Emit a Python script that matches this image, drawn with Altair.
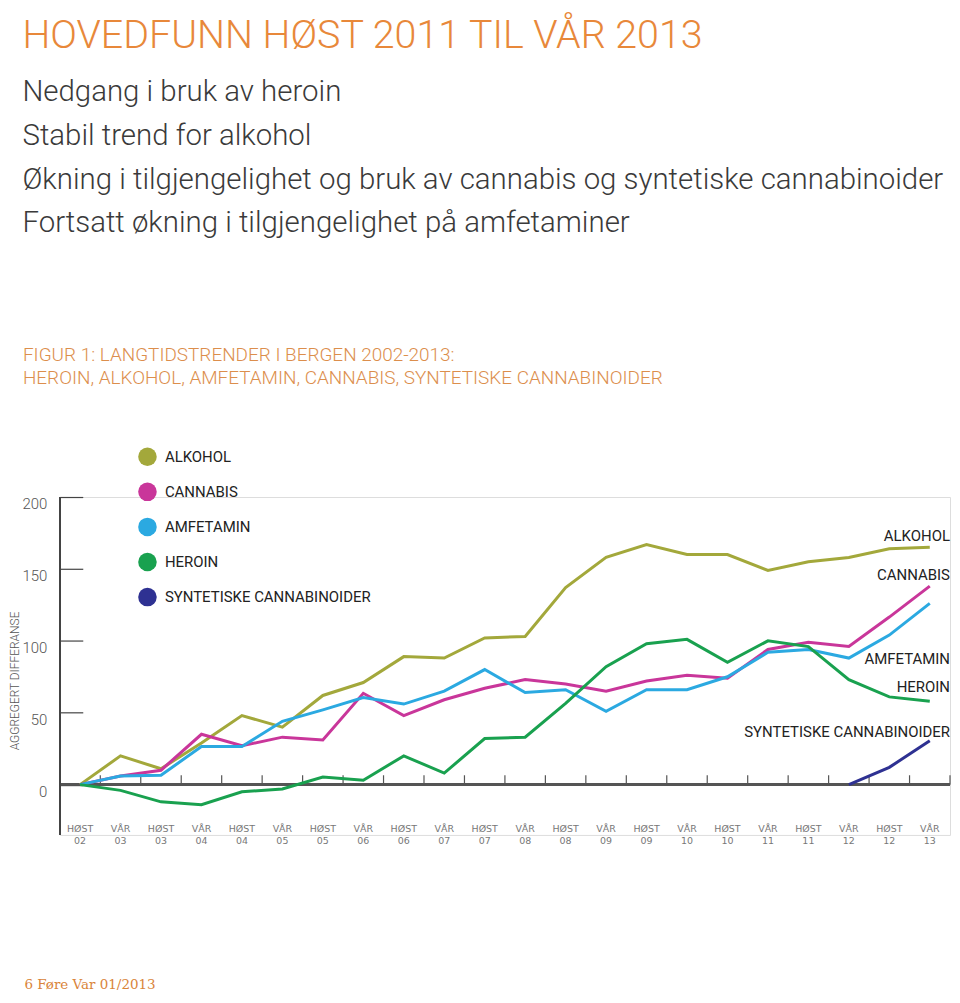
import altair as alt
import pandas as pd

periods = ["HØST 02", "VÅR 03", "HØST 03", "VÅR 04", "HØST 04", "VÅR 05", "HØST 05",
           "VÅR 06", "HØST 06", "VÅR 07", "HØST 07", "VÅR 08", "HØST 08", "VÅR 09",
           "HØST 09", "VÅR 10", "HØST 10", "VÅR 11", "HØST 11", "VÅR 12", "HØST 12", "VÅR 13"]

alkohol = [0, 20, 11, 29, 48, 40, 62, 71, 89, 88, 102, 103, 137, 158, 167, 160, 160, 149, 155, 158, 164, 165]
cannabis = [0, 6, 10, 35, 27, 33, 31, 63.5, 48, 59, 67, 73, 70, 65, 72, 76, 74, 94, 99, 96, 116.5, 138]
amfetamin = [0, 6, 6.5, 26.5, 26.5, 44, 52, 60.5, 56, 65, 80, 64, 66, 51, 66, 66, 75, 92, 94, 88, 104, 126]
heroin = [0, -4, -12, -14, -5, -3, 5.3, 3, 20, 8, 32, 33, 56.5, 82, 98, 101, 85, 100, 96, 73, 61, 58]
syntetiske = [None] * 19 + [0, 12, 30.5]

series_names = ["ALKOHOL", "CANNABIS", "AMFETAMIN", "HEROIN", "SYNTETISKE CANNABINOIDER"]
series_colors = ["#A3A83B", "#C9369A", "#2BA9E1", "#19A14F", "#2E3192"]
end_label_values = [173, 146, 87, 68, 36.7]

y_ticks = [0, 50, 100, 150, 200]

title_text = "HOVEDFUNN HØST 2011 TIL VÅR 2013"
subtitle_lines = [
    "Nedgang i bruk av heroin",
    "Stabil trend for alkohol",
    "Økning i tilgjengelighet og bruk av cannabis og syntetiske cannabinoider",
    "Fortsatt økning i tilgjengelighet på amfetaminer",
]
caption_lines = [
    "FIGUR 1: LANGTIDSTRENDER I BERGEN 2002-2013:",
    "HEROIN, ALKOHOL, AMFETAMIN, CANNABIS, SYNTETISKE CANNABINOIDER",
]
footer_text = "6   Føre Var 01/2013"

rows = []
for name, vals in zip(series_names, [alkohol, cannabis, amfetamin, heroin, syntetiske]):
    for p, v in zip(periods, vals):
        if v is not None:
            rows.append({"serie": name, "period": p, "value": v})
df = pd.DataFrame(rows)
labels_df = pd.DataFrame({"serie": series_names, "value": end_label_values,
                          "period": [periods[-1]] * len(series_names)})
periods_df = pd.DataFrame({"period": periods})

W, H = 893, 339
FONT = "Roboto"

x_scale = alt.Scale(type="band", domain=periods, paddingInner=0, paddingOuter=0)
y_scale = alt.Scale(domain=[-35, 200], nice=False, zero=False)
color_scale = alt.Scale(domain=series_names, range=series_colors)

x_axis = alt.Axis(
    orient="bottom", offset=-11, domain=False, ticks=False, grid=False,
    labelPadding=0, labelFontSize=9.5, labelColor="#777", labelFont="DejaVu Sans",
    labelLineHeight=12, labelBaseline="top", labelAngle=0,
    labelExpr="split(datum.label, ' ')",
    title=footer_text, titleFont="DejaVu Serif", titleFontSize=13.5, titleFontWeight="normal",
    titleColor="#D9843A", titleX=-36, titleY=165, titleAlign="left",
    titleBaseline="alphabetic", titleAnchor="start",
)
y_axis = alt.Axis(
    values=y_ticks, offset=-23, tickSize=23, domain=False, grid=False,
    labelPadding=13, labelOffset=7, labelFontSize=15, labelColor="#555",
    labelFont=FONT, labelFontWeight=300, tickColor="#444", tickWidth=1.2,
    title="AGGREGERT DIFFERANSE", titleFont=FONT, titleFontSize=12, titleFontWeight=300,
    titleColor="#555", titleX=-61, titleY=184, titleBaseline="bottom",
)

legend = alt.Legend(
    orient="none", legendX=78.4, legendY=-49.9, title=None, padding=0,
    symbolType="circle", symbolSize=346, symbolStrokeWidth=0, symbolOpacity=1,
    rowPadding=16.2, labelOffset=8, labelFont=FONT, labelFontSize=15, labelLimit=400,
    labelColor="#222", labelFontWeight=400,
)

dots = alt.Chart(df).mark_circle(size=0, opacity=1).encode(
    x=alt.X("period:N", scale=x_scale, axis=x_axis),
    y=alt.Y("value:Q", scale=y_scale, axis=y_axis),
    color=alt.Color("serie:N", scale=color_scale, sort=series_names, legend=legend),
)

lines = alt.Chart(df).mark_line(strokeWidth=3).encode(
    x=alt.X("period:N", scale=x_scale, axis=x_axis),
    y=alt.Y("value:Q", scale=y_scale, axis=y_axis),
    color=alt.Color("serie:N", scale=color_scale, sort=series_names, legend=legend),
)

zero_line = alt.Chart(periods_df).mark_rule(color="#555", strokeWidth=1.5).encode(
    y=alt.datum(0)
)
ticks = alt.Chart(periods_df).mark_rule(color="#555", strokeWidth=1.2).encode(
    x=alt.X("period:N", bandPosition=1, scale=x_scale),
    y=alt.datum(0),
    y2=alt.datum(6.5),
)
y_line = alt.Chart(periods_df).mark_rule(color="#444", strokeWidth=1.5).encode(
    x=alt.value(0),
    y=alt.datum(200),
    y2=alt.datum(-35),
)
end_labels = alt.Chart(labels_df).mark_text(
    align="right", baseline="middle", dx=0, font=FONT, fontSize=15, color="#222"
).encode(
    x=alt.X("period:N", bandPosition=1, scale=x_scale),
    y=alt.Y("value:Q"),
    text="serie:N",
)

main = alt.layer(dots, zero_line, ticks, y_line, lines, end_labels).properties(
    width=W, height=H,
    title=alt.TitleParams(
        caption_lines, anchor="start", frame="bounds", dx=14, offset=109,
        font=FONT, fontSize=19, fontWeight=300, color="#DC8E4C", lineHeight=23,
    ),
)

chart = alt.vconcat(main).properties(
    padding={"left": 0, "right": 0, "top": 6, "bottom": 0},
    title=alt.TitleParams(
        title_text, anchor="start", dx=14, font=FONT, fontSize=39.5, fontWeight=300,
        color="#E8883A", subtitle=subtitle_lines, subtitleFont=FONT, subtitleFontSize=29.5,
        subtitleFontWeight=300, subtitleColor="#3A3A3A", subtitleLineHeight=43.7,
        subtitlePadding=22.5, offset=107,
    ),
).configure_view(stroke=None).configure(background="white")

chart.save("out.html", embed_options={"renderer": "svg", "actions": False})
